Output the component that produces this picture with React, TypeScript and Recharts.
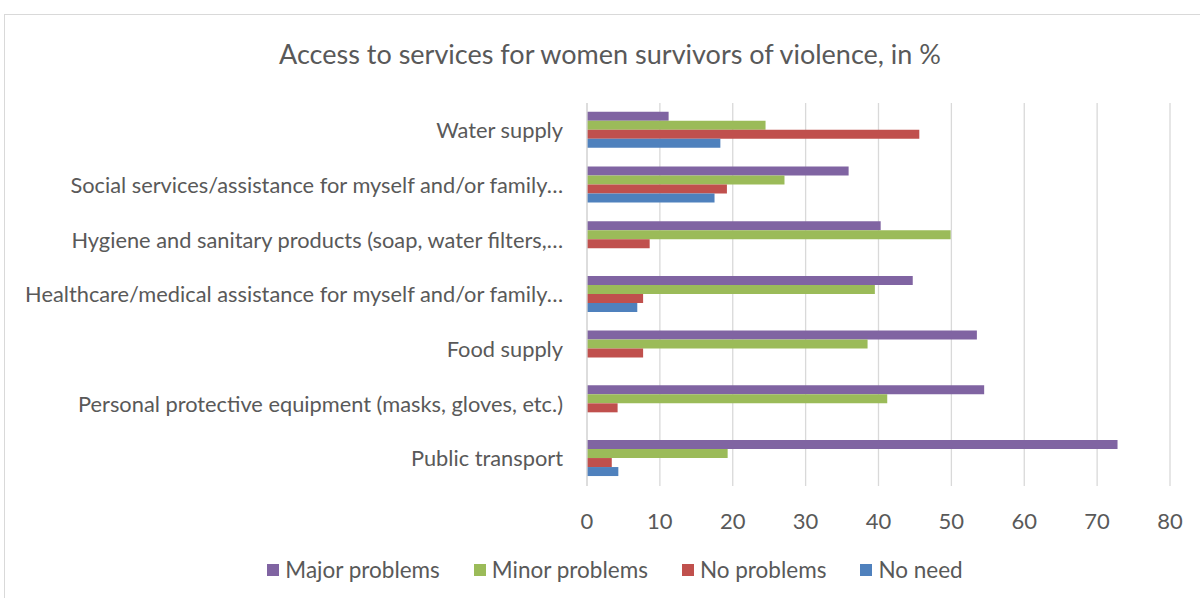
import { BarChart, Bar, XAxis, YAxis, CartesianGrid, Legend } from 'recharts'

const categories = [
  'Water supply',
  'Social services/assistance for myself and/or family…',
  'Hygiene and sanitary products (soap, water filters,…',
  'Healthcare/medical assistance for myself and/or family…',
  'Food supply',
  'Personal protective equipment (masks, gloves, etc.)',
  'Public transport',
]
const majorProblems = [11.2, 35.9, 40.3, 44.7, 53.5, 54.5, 72.8]
const minorProblems = [24.5, 27.1, 49.9, 39.5, 38.5, 41.2, 19.3]
const noProblems = [45.6, 19.2, 8.6, 7.7, 7.7, 4.2, 3.4]
const noNeed = [18.3, 17.5, 0, 6.9, 0, 0, 4.3]
const xTicks = [0, 10, 20, 30, 40, 50, 60, 70, 80]

const series = [
  { key: 'major', name: 'Major problems', color: '#8064A2' },
  { key: 'minor', name: 'Minor problems', color: '#9BBB59' },
  { key: 'noProblems', name: 'No problems', color: '#C0504D' },
  { key: 'noNeed', name: 'No need', color: '#4F81BD' },
]

const data = categories.map((name, i) => ({
  name,
  major: majorProblems[i],
  minor: minorProblems[i],
  noProblems: noProblems[i],
  noNeed: noNeed[i],
}))

const FONT = 'Lato, "Open Sans", sans-serif'
const TEXT = '#595959'

function LegendContent() {
  return (
    <div style={{ display: 'flex', justifyContent: 'center', gap: 34, fontFamily: FONT, fontSize: 22.5, color: TEXT, marginLeft: 60 }}>
      {series.map((s) => (
        <div key={s.key} style={{ display: 'flex', alignItems: 'center' }}>
          <span style={{ width: 12, height: 12, background: s.color, marginRight: 6, display: 'inline-block' }} />
          <span>{s.name}</span>
        </div>
      ))}
    </div>
  )
}

export default function App() {
  return (
    <div style={{ position: 'absolute', left: 0, top: 0, width: 1200, height: 598, overflow: 'hidden', background: '#fff' }}>
      <div style={{ position: 'absolute', left: 4, top: 14, width: 1196, height: 584, borderTop: '1.5px solid #d9d9d9', borderLeft: '1.5px solid #d9d9d9' }} />
      <div style={{ position: 'absolute', left: 0, top: 37, width: 1220, textAlign: 'center', fontFamily: FONT, fontSize: 27, color: TEXT }}>
        Access to services for women survivors of violence, in %
      </div>
      <div style={{ position: 'absolute', left: 0, top: 0 }}>
        <BarChart
          width={1200}
          height={598}
          data={data}
          layout="vertical"
          margin={{ top: 103, right: 30, left: 0, bottom: 0 }}
          barCategoryGap="16%"
          barGap={0}
        >
          <CartesianGrid horizontal={false} stroke="#d9d9d9" strokeWidth={1.3} />
          <XAxis
            type="number"
            domain={[0, 80]}
            ticks={xTicks}
            axisLine={false}
            tickLine={false}
            tickSize={0}
            tickMargin={27}
            height={40}
            tick={{ fontSize: 22, fill: TEXT, fontFamily: FONT }}
          />
          <YAxis
            type="category"
            dataKey="name"
            width={587}
            axisLine={{ stroke: '#d9d9d9', strokeWidth: 1.3 }}
            tickLine={false}
            tickSize={0}
            tickMargin={24}
            interval={0}
            tick={{ fontSize: 21.8, fill: TEXT, fontFamily: FONT }}
          />
          <Legend
            verticalAlign="bottom"
            height={72}
            wrapperStyle={{ paddingTop: 30, boxSizing: 'border-box' }}
            content={<LegendContent />}
          />
          {series.map((s) => (
            <Bar key={s.key} dataKey={s.key} name={s.name} fill={s.color} isAnimationActive={false} />
          ))}
        </BarChart>
      </div>
    </div>
  )
}
